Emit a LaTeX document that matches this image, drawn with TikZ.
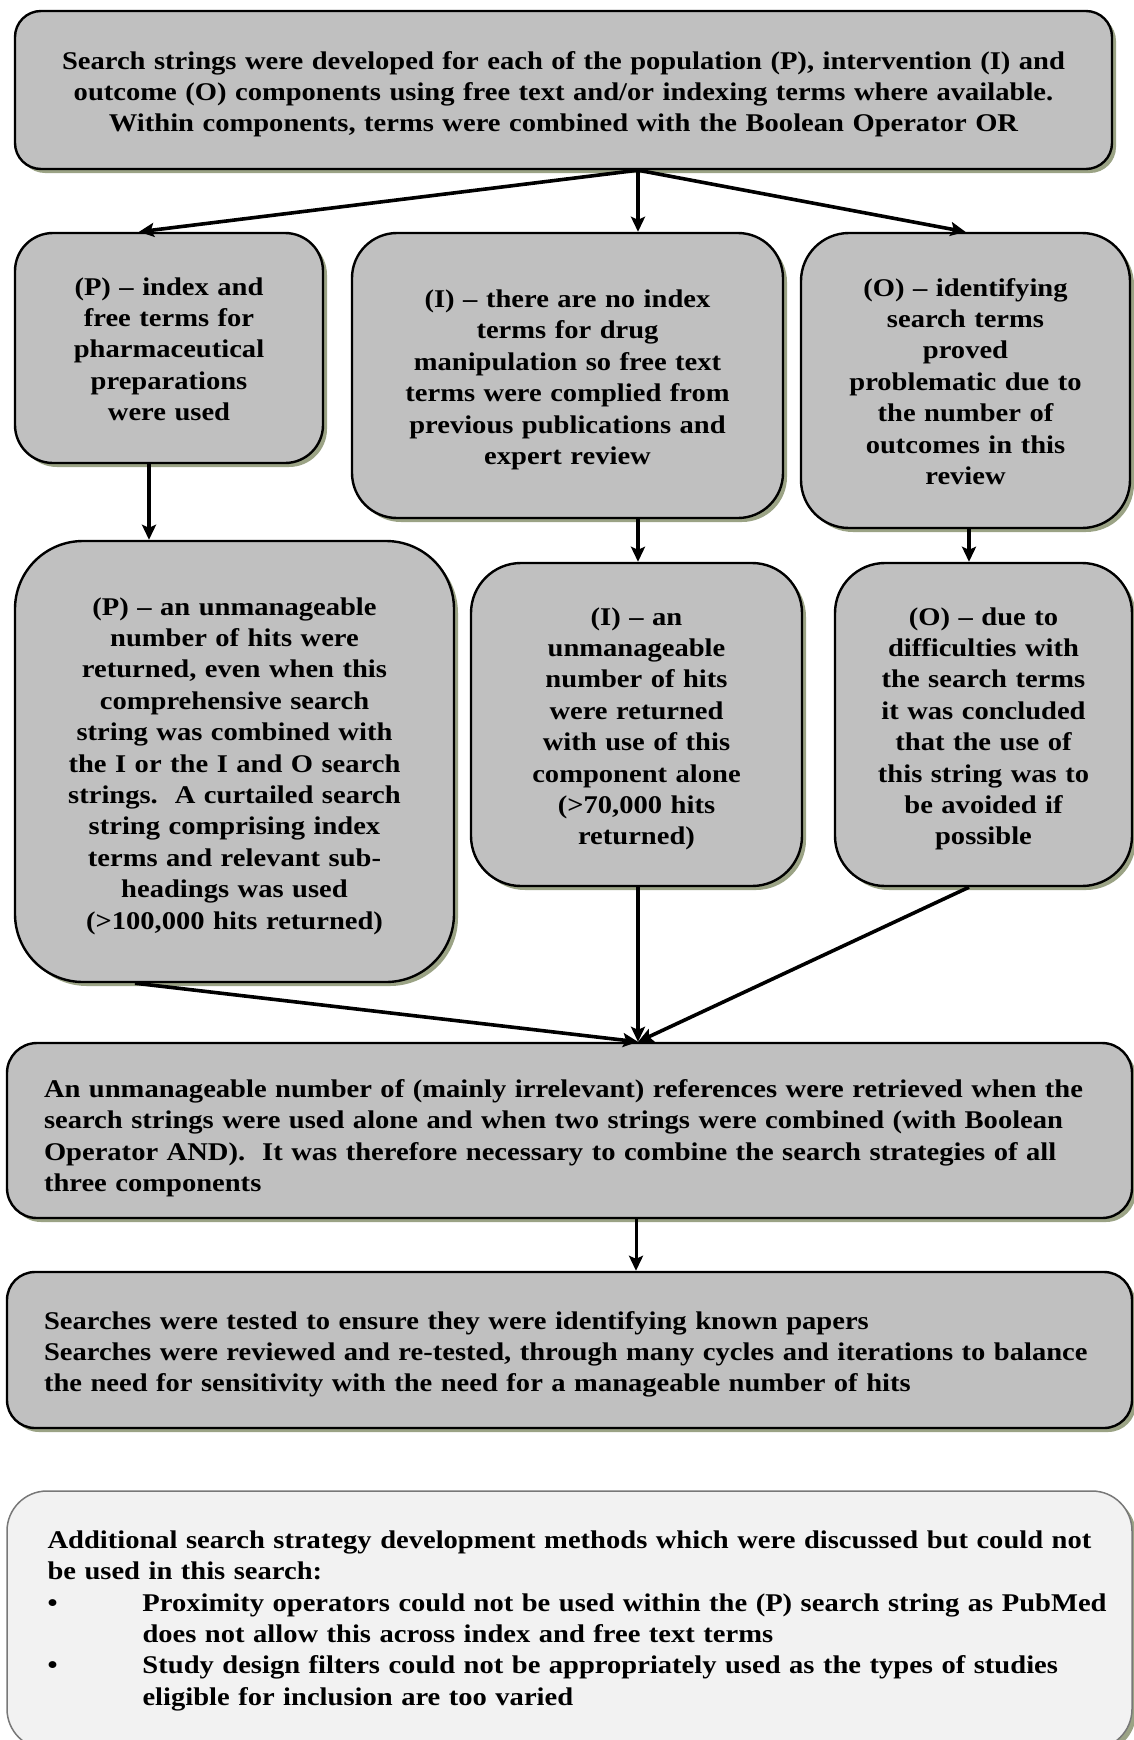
\documentclass[tikz,border=0pt]{standalone}
\usepackage{fontspec}
\setmainfont{Liberation Serif}[FakeStretch=1.12]
\usetikzlibrary{arrows.meta,shadows}
\definecolor{boxgray}{RGB}{192,192,192}
\definecolor{boxshade}{RGB}{155,163,133}
\definecolor{notefill}{RGB}{242,242,242}
\definecolor{noteline}{RGB}{120,120,120}

\begin{document}
\begin{tikzpicture}[x=1pt,y=-1pt,
    box/.style={draw=black,line width=2.4pt,fill=boxgray,align=center,inner sep=0pt,text height=26.5pt,
      drop shadow={shadow xshift=4pt,shadow yshift=-4pt,fill=boxshade,opacity=1},
      font=\fontsize{25.5}{31.4}\selectfont\bfseries},
    wide/.style={box,align=left,text width=1051pt},
    flow/.style={line width=3.6pt},
    >={Stealth[length=15pt,width=14pt,inset=3pt]}]
    \useasboundingbox (0,0) rectangle (1134,1740);

    \node[box,rounded corners=26pt,minimum width=1097pt,minimum height=158pt,text width=1081pt] (Develop) at (563.5,90)
      {Search strings were developed for each of the population (P), intervention (I) and\\
       outcome (O) components using free text and/or indexing terms where available.\\
       Within components, terms were combined with the Boolean Operator OR};

    \node[box,rounded corners=38pt,minimum width=308pt,minimum height=230pt,text width=292pt,text height=20pt] (Pindex) at (169,348)
      {(P) – index and\\ free terms for\\ pharmaceutical\\ preparations\\ were used};
    \node[box,rounded corners=45pt,minimum width=431pt,minimum height=285pt,text width=415pt] (Inoindex) at (567.5,375.5)
      {(I) – there are no index\\ terms for drug\\ manipulation so free text\\ terms were complied from\\ previous publications and\\ expert review};
    \node[box,rounded corners=48pt,minimum width=329pt,minimum height=295pt,text width=313pt,text height=20pt] (Oterms) at (965.5,380.5)
      {(O) – identifying\\ search terms\\ proved\\ problematic due to\\ the number of\\ outcomes in this\\ review};

    \node[box,rounded corners=68pt,minimum width=439pt,minimum height=441pt,text width=423pt] (Phits) at (234.5,761.5)
      {(P) – an unmanageable\\ number of hits were\\ returned, even when this\\ comprehensive search\\
       string was combined with\\ the I or the I and O search\\ strings.\ \ A curtailed search\\
       string comprising index\\ terms and relevant sub-\\ headings was used\\ (>100,000 hits returned)};
    \node[box,rounded corners=50pt,minimum width=331pt,minimum height=323pt,text width=315pt] (Ihits) at (636.5,724.5)
      {(I) – an\\ unmanageable\\ number of hits\\ were returned\\ with use of this\\ component alone\\ (>70,000 hits\\ returned)};
    \node[box,rounded corners=50pt,minimum width=297pt,minimum height=323pt,text width=281pt] (Oavoid) at (983.5,724.5)
      {(O) – due to\\ difficulties with\\ the search terms\\ it was concluded\\ that the use of\\ this string was to\\ be avoided if\\ possible};

    \node[wide,rounded corners=30pt,minimum width=1125pt,minimum height=175pt,text height=33.5pt] (Combine) at (569.5,1130.5)
      {An unmanageable number of (mainly irrelevant) references were retrieved when the\\
       search strings were used alone and when two strings were combined (with Boolean\\
       Operator AND).\ \ It was therefore necessary to combine the search strategies of all\\
       three components};
    \node[wide,rounded corners=28pt,minimum width=1125pt,minimum height=156pt] (Tested) at (569.5,1350)
      {Searches were tested to ensure they were identifying known papers\\
       Searches were reviewed and re-tested, through many cycles and iterations to balance\\
       the need for sensitivity with the need for a manageable number of hits};

    \node[wide,rounded corners=40pt,minimum width=1125pt,minimum height=258pt,text height=19pt,
          draw=noteline,line width=1.5pt,fill=notefill,text width=1044pt] (Extra) at (569.5,1620)
      {Additional search strategy development methods which were discussed but could not\\
       be used in this search:\\
       \mbox{\makebox[95pt][l]{\textbullet}Proximity operators could not be used within the (P) search string as PubMed}\\
       \hspace*{95pt}does not allow this across index and free text terms\\
       \makebox[95pt][l]{\textbullet}Study design filters could not be appropriately used as the types of studies\\
       \hspace*{95pt}eligible for inclusion are too varied};

    \draw[flow] ([xshift=74.5pt]Develop.south) edge[->] ([xshift=-30pt]Pindex.north);
    \draw[flow] ([xshift=74.5pt]Develop.south) edge[->] ([xshift=70.5pt]Inoindex.north);
    \draw[flow] ([xshift=74.5pt]Develop.south) edge[->] (Oterms.north);

    \draw[flow] ([xshift=-20pt]Pindex.south) edge[->] ([xshift=-85.5pt]Phits.north);
    \draw[flow] ([xshift=70.5pt]Inoindex.south) edge[->] ([xshift=1.5pt]Ihits.north);
    \draw[flow] ([xshift=3.5pt]Oterms.south) edge[->] ([xshift=-14.5pt]Oavoid.north);

    \draw[flow] ([xshift=-99.5pt]Phits.south) edge[->] ([xshift=68.5pt]Combine.north);
    \draw[flow] ([xshift=1.5pt]Ihits.south) edge[->] ([xshift=68.5pt]Combine.north);
    \draw[flow] ([xshift=-14.5pt]Oavoid.south) edge[->] ([xshift=68.5pt]Combine.north);

    \draw[line width=3pt] ([xshift=66.5pt]Combine.south) edge[->] ([xshift=66.5pt]Tested.north);
\end{tikzpicture}
\end{document}
